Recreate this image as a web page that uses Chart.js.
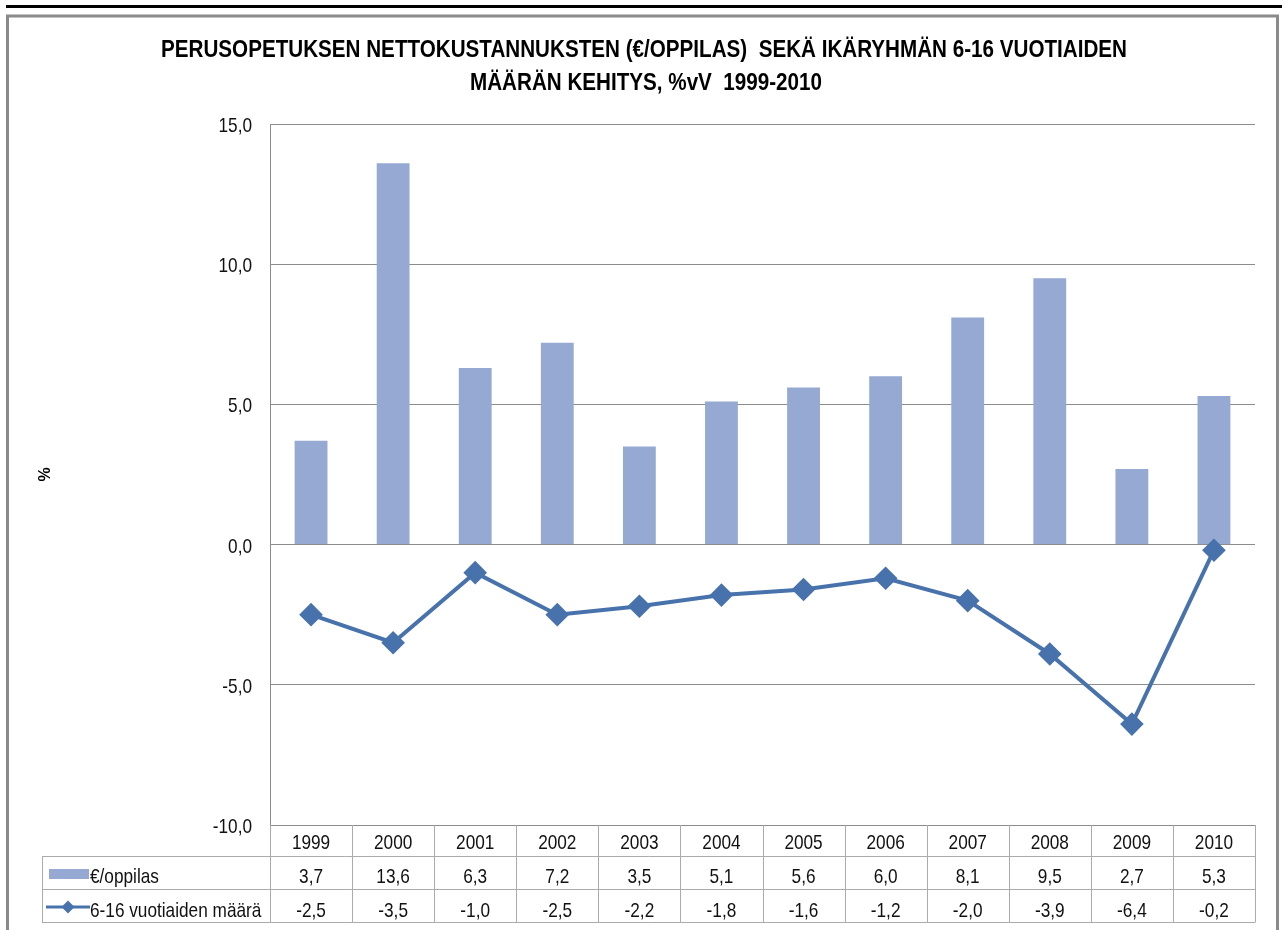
<!DOCTYPE html>
<html>
<head>
<meta charset="utf-8">
<script src="https://cdn.jsdelivr.net/npm/chart.js@4.4.1/dist/chart.umd.min.js"></script>
<style>
  html, body { margin: 0; padding: 0; background: #fff; }
  #wrap { width: 1282px; height: 930px; position: relative; }
</style>
</head>
<body>
<div id="wrap"><canvas id="c" width="1282" height="930"></canvas></div>
<script>
const categories = ['1999','2000','2001','2002','2003','2004','2005','2006','2007','2008','2009','2010'];
const costPerPupil = [3.7, 13.6, 6.3, 7.2, 3.5, 5.1, 5.6, 6.0, 8.1, 9.5, 2.7, 5.3];
const ageGroupChange = [-2.5, -3.5, -1.0, -2.5, -2.2, -1.8, -1.6, -1.2, -2.0, -3.9, -6.4, -0.2];
const seriesNames = ['€/oppilas', '6-16 vuotiaiden määrä'];
const titleLines = ['PERUSOPETUKSEN NETTOKUSTANNUKSTEN (€/OPPILAS)  SEKÄ IKÄRYHMÄN 6-16 VUOTIAIDEN', 'MÄÄRÄN KEHITYS, %vV  1999-2010'];
const yAxisTitle = '%';

const FONT = '"Liberation Sans", Arial, sans-serif';
const NARROW = 0.82;
const BAR_COLOR = '#95a9d2';
const LINE_COLOR = '#4872ac';
const GRID_COLOR = '#8c8c8c';
const TABLE_COLOR = '#ababab';
const TEXT_COLOR = '#111';
const fmt = v => v.toFixed(1).replace('.', ',');

function narrowText(ctx, text, x, y, font, sx, align) {
  ctx.save();
  ctx.font = font;
  ctx.textAlign = align;
  ctx.textBaseline = 'alphabetic';
  ctx.translate(x, y);
  ctx.scale(sx, 1);
  ctx.fillText(text, 0, 0);
  ctx.restore();
}

const framePlugin = {
  id: 'frameAndTable',
  beforeDraw(chart) {
    const ctx = chart.ctx;
    ctx.save();
    ctx.fillStyle = '#fff';
    ctx.fillRect(0, 0, chart.width, chart.height);
    ctx.fillStyle = '#000';
    ctx.fillRect(6, 5, chart.width - 6, 3);
    ctx.strokeStyle = '#8a8a8a';
    ctx.lineWidth = 3;
    ctx.strokeRect(7.5, 16, 1270, 940);
    ctx.restore();
  },
  afterDraw(chart) {
    const ctx = chart.ctx;
    const area = chart.chartArea;
    const xs = chart.scales.x;
    const ys = chart.scales.y;
    const n = categories.length;
    const colW = (area.right - area.left) / n;
    const rowTop = [area.bottom, area.bottom + 31, area.bottom + 64, area.bottom + 97];
    const tableLeft = 42;
    ctx.save();
    // title
    ctx.fillStyle = '#000';
    const tFont = 'bold 23px ' + FONT;
    ctx.font = tFont;
    const tsx = 966 / ctx.measureText(titleLines[0]).width;
    narrowText(ctx, titleLines[0], 644, 57, tFont, tsx, 'center');
    narrowText(ctx, titleLines[1], 646, 90, tFont, tsx, 'center');
    // y tick labels
    ctx.fillStyle = TEXT_COLOR;
    const nFont = '21px ' + FONT;
    ys.ticks.forEach(t => {
      narrowText(ctx, fmt(t.value), 252, ys.getPixelForValue(t.value) + 8, nFont, NARROW, 'right');
    });
    // table lines
    ctx.strokeStyle = TABLE_COLOR;
    ctx.lineWidth = 1;
    ctx.beginPath();
    for (let i = 0; i <= n; i++) {
      const bx = Math.round(xs.getPixelForValue(0) - colW / 2 + i * colW) + 0.5;
      ctx.moveTo(bx, rowTop[0]);
      ctx.lineTo(bx, rowTop[3]);
    }
    for (let r = 1; r <= 3; r++) {
      ctx.moveTo(tableLeft, Math.round(rowTop[r]) + 0.5);
      ctx.lineTo(area.right + 0.5, Math.round(rowTop[r]) + 0.5);
    }
    ctx.moveTo(tableLeft + 0.5, rowTop[1]);
    ctx.lineTo(tableLeft + 0.5, rowTop[3]);
    ctx.stroke();
    // table text
    ctx.fillStyle = TEXT_COLOR;
    for (let i = 0; i < n; i++) {
      const cx = xs.getPixelForValue(i);
      narrowText(ctx, categories[i], cx, rowTop[0] + 24, nFont, NARROW, 'center');
      narrowText(ctx, fmt(costPerPupil[i]), cx, rowTop[1] + 27, nFont, NARROW, 'center');
      narrowText(ctx, fmt(ageGroupChange[i]), cx, rowTop[2] + 28, nFont, NARROW, 'center');
    }
    // legend keys
    ctx.fillStyle = BAR_COLOR;
    ctx.fillRect(49, rowTop[1] + 13, 40, 10);
    ctx.strokeStyle = LINE_COLOR;
    ctx.lineWidth = 3;
    ctx.beginPath();
    ctx.moveTo(46, rowTop[2] + 18);
    ctx.lineTo(90, rowTop[2] + 18);
    ctx.stroke();
    ctx.fillStyle = LINE_COLOR;
    ctx.beginPath();
    const dx = 68, dy = rowTop[2] + 18, d = 6.5;
    ctx.moveTo(dx, dy - d); ctx.lineTo(dx + d, dy); ctx.lineTo(dx, dy + d); ctx.lineTo(dx - d, dy); ctx.closePath();
    ctx.fill();
    ctx.fillStyle = TEXT_COLOR;
    narrowText(ctx, seriesNames[0], 90, rowTop[1] + 27, nFont, NARROW, 'left');
    narrowText(ctx, seriesNames[1], 90, rowTop[2] + 28, nFont, NARROW, 'left');
    ctx.restore();
  }
};

new Chart(document.getElementById('c'), {
  data: {
    labels: categories,
    datasets: [
      {
        type: 'line',
        label: seriesNames[1],
        data: ageGroupChange,
        borderColor: LINE_COLOR,
        backgroundColor: LINE_COLOR,
        borderWidth: 4,
        pointStyle: 'rectRot',
        pointRadius: 9,
        pointHoverRadius: 9,
        tension: 0,
        order: 0
      },
      {
        type: 'bar',
        label: seriesNames[0],
        data: costPerPupil,
        backgroundColor: BAR_COLOR,
        borderWidth: 0,
        barPercentage: 0.4,
        categoryPercentage: 1,
        order: 1
      }
    ]
  },
  options: {
    responsive: false,
    animation: false,
    devicePixelRatio: 1,
    layout: { padding: { left: 30, top: 124, right: 27, bottom: 105 } },
    plugins: { legend: { display: false }, title: { display: false }, tooltip: { enabled: false } },
    scales: {
      x: { display: false, offset: true },
      y: {
        min: -10, max: 15,
        afterFit(scale) { scale.width = 240; },
        ticks: { stepSize: 5, display: false },
        grid: { color: GRID_COLOR, drawTicks: false, lineWidth: 1 },
        border: { color: GRID_COLOR, width: 1 },
        title: { display: true, text: yAxisTitle, color: '#000', font: { family: FONT, size: 16, weight: 'bold' }, padding: { top: 6, bottom: 0 } }
      }
    }
  },
  plugins: [framePlugin]
});
</script>
</body>
</html>
